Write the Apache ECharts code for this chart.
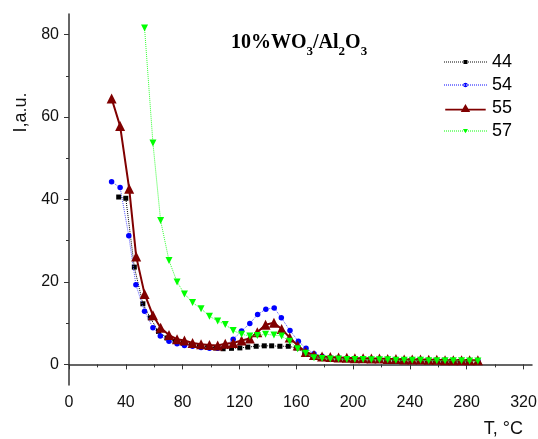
<!DOCTYPE html>
<html>
<head>
<meta charset="utf-8">
<script src="https://cdn.jsdelivr.net/npm/echarts@6/dist/echarts.min.js"></script>
<style>
html,body{margin:0;padding:0;background:#fff;}
#chart{width:538px;height:439px;}
</style>
</head>
<body>
<div id="chart"></div>
<script>
// ---- data ----
const seriesNames = ['44', '54', '55', '57'];

// series 44 (black squares)
const T44 = [35, 40, 46, 52, 57.2, 63, 69, 74.7, 80.5, 86.3, 92, 97.8, 103.5, 108.5, 114.4, 120.3, 125.9, 131.8, 137.5, 142.7, 148.5, 154.4, 160.2, 166, 171.8, 177.5, 183.3, 189, 194.8, 200.5, 206.3, 212, 217.8, 223.5, 229.3, 235, 240.8, 246.5, 252.3, 258, 263.8, 269.5, 275.3, 281];
const I44 = [40.6, 40.3, 23.6, 14.7, 11.3, 8.0, 6.4, 5.6, 5.1, 4.8, 4.5, 4.3, 4.0, 3.8, 3.9, 4.0, 4.2, 4.4, 4.5, 4.5, 4.4, 4.4, 4.0, 2.8, 1.9, 1.6, 1.4, 1.3, 1.2, 1.2, 1.1, 1.1, 1.0, 1.0, 1.0, 0.9, 0.9, 0.9, 0.8, 0.8, 0.8, 0.8, 0.7, 0.7];

// series 54 (blue circles)
const T54 = [30, 36, 42.1, 47.1, 53.2, 59.1, 64.3, 70.4, 76.1, 81.3, 87, 93, 98.9, 104.7, 110, 115.6, 121.5, 127.3, 132.8, 138.6, 144.5, 149.5, 155.6, 161.5, 166.9, 172.5, 178.2, 184, 189.8, 195.6, 201.3, 207.1, 212.9, 218.6, 224.4, 230.2, 236, 241.7, 247.5, 253.3, 259, 264.8, 270.6, 276.4, 282.1, 287.9];
const I54 = [44.3, 42.9, 31.2, 19.3, 12.9, 8.9, 6.9, 5.6, 5.0, 4.6, 4.4, 4.1, 3.9, 3.9, 4.6, 6.1, 8.1, 9.9, 12.1, 13.4, 13.7, 11.3, 8.2, 5.6, 3.9, 2.6, 2.0, 1.7, 1.6, 1.5, 1.4, 1.4, 1.3, 1.3, 1.2, 1.2, 1.1, 1.1, 1.1, 1.0, 1.0, 1.0, 0.9, 0.9, 0.9, 0.9];

// series 55 (dark red triangles, solid line)
const T55 = [30, 36, 42.4, 47.3, 53.2, 59.1, 64.5, 70.4, 76.1, 81.3, 87, 93, 98.9, 104.7, 110, 115.6, 121.5, 127.3, 132.6, 138.4, 144.3, 149.7, 155.4, 161, 166.7, 172.5, 178.2, 184, 189.8, 195.6, 201.3, 207.1, 212.9, 218.6, 224.4, 230.2, 236, 241.7, 247.5, 253.3, 259, 264.8, 270.6, 276.4, 282.1, 287.9];
const I55 = [64.5, 57.8, 42.6, 26.2, 17.1, 11.9, 8.9, 7.1, 6.1, 5.8, 5.2, 4.9, 4.7, 4.6, 5.0, 5.2, 5.8, 6.3, 7.8, 9.6, 10.1, 8.6, 6.5, 4.6, 3.0, 2.3, 1.9, 1.8, 1.7, 1.6, 1.5, 1.5, 1.4, 1.4, 1.3, 1.3, 1.2, 1.2, 1.2, 1.1, 1.1, 1.0, 1.0, 1.0, 1.0, 1.0];

// series 57 (green down-triangles)
const T57 = [53.2, 59.1, 64.5, 70.4, 76.1, 81.3, 87, 93, 98.9, 104.7, 110, 115.6, 121.5, 127.3, 132.6, 138.4, 144.3, 149.7, 155.4, 161, 166.7, 172.5, 178.2, 184, 189.8, 195.6, 201.3, 207.1, 212.9, 218.6, 224.4, 230.2, 236, 241.7, 247.5, 253.3, 259, 264.8, 270.6, 276.4, 282.1, 287.9];
const I57 = [81.6, 53.7, 34.9, 25.2, 20.0, 17.1, 15.0, 13.5, 11.7, 10.5, 9.7, 8.2, 7.3, 6.9, 7.0, 7.3, 7.1, 6.9, 5.6, 3.8, 2.7, 1.6, 1.4, 1.3, 1.3, 1.2, 1.2, 1.2, 1.1, 1.1, 1.1, 1.0, 1.0, 1.0, 1.0, 0.9, 0.9, 0.9, 0.9, 0.9, 0.8, 0.8];

// ticks
const xMajorTicks = [0, 40, 80, 120, 160, 200, 240, 280, 320];
const xMinorTicks = [20, 60, 100, 140, 180, 220, 260, 300];
const yMajorTicks = [0, 20, 40, 60, 80];
const yMinorTicks = [10, 30, 50, 70];

const titleParts = ['10%WO', '3', '/Al', '2', 'O', '3'];
const xName = 'T, °C';
const yName = 'I,a.u.';

// ---- chart ----
const zip = (xs, ys) => xs.map((x, i) => [x, ys[i]]);
const sans = 'Liberation Sans, Arial, sans-serif';
const axisColor = '#333';

// legend icon shapes (43 x 8 box): dotted/solid line with marker in the middle
function dottedLine(y) {
  let p = '';
  for (let x = 0; x < 43; x += 2) p += 'M' + x + ',' + y + 'h1v1h-1z ';
  return p;
}
const legendIcons = {
  '44': 'path://M0,0h0.01v0.01h-0.01z M0,8h0.01v0.01h-0.01z ' + dottedLine(3.5) + 'M19.5,2h4v4h-4z',
  '54': 'path://M0,0h0.01v0.01h-0.01z M0,8h0.01v0.01h-0.01z ' + dottedLine(3.5) + 'M19.2,4a2.3,2.3 0 1,0 4.6,0a2.3,2.3 0 1,0 -4.6,0z',
  '55': 'path://M0,5h43v2h-43z M21.5,0L26.5,8.5L16.5,8.5z',
  '57': 'path://M0,0h0.01v0.01h-0.01z M0,8h0.01v0.01h-0.01z ' + dottedLine(3.5) + 'M19,2h5l-2.5,4.2z'
};

const chart = echarts.init(document.getElementById('chart'), null, {renderer: 'canvas'});

const titleText = titleParts.map((p, i) => (i % 2 === 0 ? '{a|' : '{s|') + p + '}').join('');

const option = {
  backgroundColor: '#fff',
  animation: false,
  title: [
    {
      text: titleText,
      left: 231,
      top: 33,
      padding: 0,
      textStyle: {
        rich: {
          a: {fontFamily: 'Liberation Serif, Times New Roman, serif', fontWeight: 'bold', fontSize: 20, lineHeight: 22, verticalAlign: 'top', color: '#000'},
          s: {fontFamily: 'Liberation Serif, Times New Roman, serif', fontWeight: 'bold', fontSize: 13, lineHeight: 14, verticalAlign: 'top', padding: [12, 0, 0, 0], color: '#000'}
        }
      }
    },
    {
      text: xName,
      right: 15,
      top: 420,
      padding: 0,
      textStyle: {fontFamily: sans, fontSize: 18, fontWeight: 'normal', color: '#111'}
    }
  ],
  legend: {
    orient: 'vertical',
    left: 444,
    top: 53,
    padding: 0,
    itemWidth: 43,
    itemHeight: 8,
    itemGap: 5,
    data: seriesNames.map(n => ({name: n, icon: legendIcons[n]})),
    textStyle: {fontFamily: sans, fontSize: 18, color: '#000'}
  },
  grid: {left: 69, right: 6, top: 14, bottom: 54, containLabel: false, outerBoundsMode: 'none'},
  xAxis: [
    {
      type: 'value', min: 0, max: 326, position: 'bottom',
      axisLine: {show: true, lineStyle: {color: axisColor, width: 1.5}},
      axisTick: {show: true, inside: false, length: 5, customValues: xMajorTicks, lineStyle: {color: axisColor, width: 1}},
      axisLabel: {show: true, margin: 10, customValues: xMajorTicks, fontFamily: sans, fontSize: 16, color: '#111'},
      splitLine: {show: false}
    },
    {
      type: 'value', min: 0, max: 326, position: 'bottom',
      axisLine: {show: false},
      axisTick: {show: true, inside: false, length: 3, customValues: xMinorTicks, lineStyle: {color: axisColor, width: 1}},
      axisLabel: {show: false},
      splitLine: {show: false}
    }
  ],
  yAxis: [
    {
      type: 'value', min: -5, max: 85, position: 'left',
      name: yName, nameLocation: 'middle', nameGap: 37,
      nameTextStyle: {fontFamily: sans, fontSize: 18, color: '#111', padding: [0, 0, 0, 174]},
      axisLine: {show: true, lineStyle: {color: axisColor, width: 1.5}},
      axisTick: {show: true, inside: false, length: 5, customValues: yMajorTicks, lineStyle: {color: axisColor, width: 1}},
      axisLabel: {show: true, margin: 10, customValues: yMajorTicks, fontFamily: sans, fontSize: 16, color: '#111'},
      splitLine: {show: false}
    },
    {
      type: 'value', min: -5, max: 85, position: 'left',
      axisLine: {show: false},
      axisTick: {show: true, inside: false, length: 3, customValues: yMinorTicks, lineStyle: {color: axisColor, width: 1}},
      axisLabel: {show: false},
      splitLine: {show: false}
    }
  ],
  series: [
    {
      name: '44', type: 'line', xAxisIndex: 0, yAxisIndex: 0,
      data: zip(T44, I44),
      symbol: 'rect', symbolSize: 5, showAllSymbol: true,
      itemStyle: {color: '#000'},
      lineStyle: {color: '#000', width: 1, type: 'dotted'},
      z: 2
    },
    {
      name: '54', type: 'line', xAxisIndex: 0, yAxisIndex: 0,
      data: zip(T54, I54),
      symbol: 'circle', symbolSize: 5.5, showAllSymbol: true,
      itemStyle: {color: '#0000ff'},
      lineStyle: {color: '#5555ff', width: 1, type: 'dotted'},
      z: 3
    },
    {
      name: '55', type: 'line', xAxisIndex: 0, yAxisIndex: 0,
      data: zip(T55, I55),
      symbol: 'triangle', symbolSize: 10, showAllSymbol: true,
      itemStyle: {color: '#800000'},
      lineStyle: {color: '#800000', width: 2, type: 'solid'},
      z: 4
    },
    {
      name: '57', type: 'line', xAxisIndex: 0, yAxisIndex: 0,
      data: zip(T57, I57),
      symbol: 'triangle', symbolRotate: 180, symbolSize: 7, showAllSymbol: true,
      itemStyle: {color: '#00ff00'},
      lineStyle: {color: '#33ff33', width: 1, type: 'dotted'},
      z: 5
    }
  ]
};
chart.setOption(option);
</script>
</body>
</html>
